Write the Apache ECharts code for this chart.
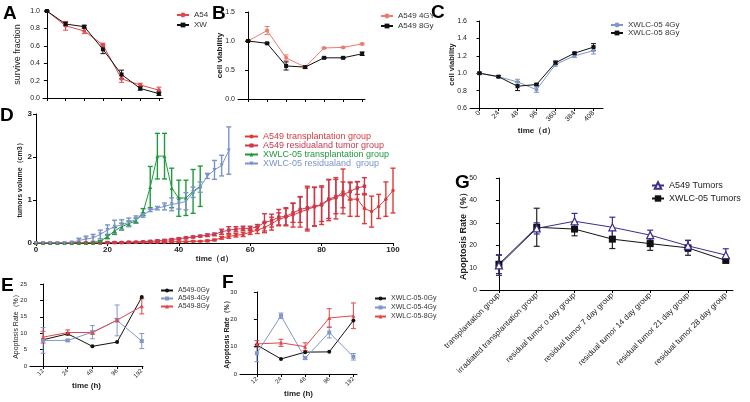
<!DOCTYPE html>
<html><head><meta charset="utf-8">
<script src="https://cdn.jsdelivr.net/npm/echarts@6/dist/echarts.min.js"></script>
<style>html,body{margin:0;padding:0;background:#fff}#c{width:750px;height:402px}</style>
</head><body><div id="c"></div>
<script>
// ---------- DATA ----------
// Panel A (survive fraction, 7 doses, no tick labels)
var aIdx = [0,1,2,3,4,5,6];
var aA54 = [1.0,0.83,0.77,0.61,0.22,0.15,0.09];
var aA54Err = [0.005,0.05,0.03,0.02,0.04,0.02,0.035];
var aXW = [1.0,0.85,0.82,0.56,0.27,0.11,0.05];
var aXWErr = [0.005,0.02,0.015,0.05,0.05,0.02,0.02];
// Panel B
var bA549Gy4 = [1.0,1.18,0.71,0.55,0.88,0.89,0.95];
var bA549Gy4Err = [0.01,0.07,0.05,0.02,0.01,0.01,0.015];
var bA549Gy8 = [1.0,0.96,0.57,0.55,0.71,0.71,0.78];
var bA549Gy8Err = [0.01,0.01,0.07,0.02,0.01,0.01,0.03];
// Panel C
var cLabels = ['0','24','48','96','360','384','408'];
var cXwGy4 = [1.0,0.96,0.90,0.81,1.10,1.20,1.26];
var cXwGy4Err = [0.01,0.01,0.03,0.03,0.02,0.02,0.04];
var cXwGy8 = [1.0,0.96,0.85,0.87,1.12,1.23,1.30];
var cXwGy8Err = [0.01,0.01,0.05,0.01,0.02,0.01,0.04];
// Panel D (tumor volume vs day)
var dDaysA549T = [0,2,4,6,8,10,12,14,16,18,20,22,24,26,28,30,32,34,36,38,40,42,44,46,48,50,52,54,56,58,60,62,64,66,68,70,72,74,76,78,80,82,84,86,88,90,92,94,96,98,100];
var dA549T = [0,0,0,0,0,0,0,0,0,0,0.01,0.01,0.01,0.01,0.02,0.02,0.02,0.02,0.02,0.03,0.03,0.03,0.04,0.04,0.05,0.07,0.12,0.15,0.18,0.2,0.25,0.3,0.36,0.45,0.55,0.6,0.65,0.72,0.78,0.84,0.88,1.0,1.04,1.2,1.02,1.02,0.8,0.73,0.85,1.02,1.22];
var dA549TErr = [0,0,0,0,0,0,0,0,0,0,0.01,0.01,0.01,0.01,0.01,0.01,0.01,0.01,0.01,0.01,0.01,0.01,0.01,0.01,0.02,0.02,0.03,0.04,0.04,0.05,0.05,0.08,0.12,0.15,0.15,0.2,0.28,0.35,0.5,0.45,0.45,0.48,0.48,0.52,0.4,0.4,0.35,0.36,0.28,0.4,0.52];
var dDaysA549R = [0,2,4,6,8,10,12,14,16,18,20,22,24,26,28,30,32,34,36,38,40,42,44,46,48,50,52,54,56,58,60,62,64,66,68,70,72,74,76,78,80,82,84,86,88,90,92];
var dA549R = [0,0,0,0,0,0,0,0,0,0,0.01,0.01,0.01,0.02,0.02,0.03,0.04,0.05,0.06,0.08,0.1,0.12,0.14,0.16,0.18,0.2,0.26,0.3,0.32,0.34,0.34,0.37,0.48,0.52,0.6,0.62,0.7,0.78,0.82,0.85,0.9,1.02,1.08,1.12,1.2,1.28,1.32];
var dA549RErr = [0,0,0,0,0,0,0,0,0,0,0.01,0.01,0.01,0.01,0.01,0.01,0.01,0.02,0.02,0.02,0.02,0.02,0.02,0.02,0.03,0.03,0.06,0.08,0.06,0.05,0.05,0.06,0.2,0.15,0.18,0.2,0.22,0.3,0.5,0.45,0.4,0.45,0.4,0.3,0.2,0.15,0.2];
var dDaysXwT = [0,2,4,6,8,10,12,14,16,18,20,22,24,26,28,30,32,34,36,38,40,42,44,46];
var dXwT = [0,0,0,0,0,0,0,0,0.01,0.04,0.15,0.28,0.38,0.45,0.52,0.72,1.3,2.02,2.02,1.28,1.04,1.05,1.2,1.32];
var dXwTErr = [0,0,0,0,0,0,0,0,0,0.02,0.05,0.08,0.08,0.06,0.06,0.08,0.48,0.53,0.53,0.46,0.42,0.41,0.51,0.47];
var dDaysXwR = [0,2,4,6,8,10,12,14,16,18,20,22,24,26,28,30,32,34,36,38,40,42,44,46,48,50,52,54];
var dXwR = [0,0,0,0,0,0.01,0.06,0.09,0.12,0.2,0.3,0.38,0.42,0.48,0.55,0.65,0.76,0.81,0.85,0.9,0.92,0.97,1.18,1.3,1.56,1.7,1.8,2.15];
var dXwRErr = [0,0,0,0,0,0.01,0.05,0.07,0.08,0.1,0.12,0.15,0.12,0.1,0.08,0.05,0.03,0.04,0.08,0.15,0.13,0.2,0.12,0.12,0.06,0.22,0.24,0.55];
// Panel E / F
var efLabels = ['12','24','48','96','192'];
var eGy0 = [8.0,9.8,6.0,7.3,21.0];
var eGy4 = [7.8,7.8,10.3,13.9,7.6];
var eGy4Err = [3.9,0.3,2.0,4.7,2.3];
var eGy8 = [8.8,10.2,10.2,14.0,18.2];
var eGy8Err = [1.8,0.8,0.5,0.5,2.3];
var fGy0 = [10.6,5.5,8.0,8.1,19.6];
var fGy4 = [7.6,21.3,5.8,15.2,6.3];
var fGy4Err = [3.1,1.0,0.5,2.0,1.2];
var fGy8 = [11.0,11.4,10.0,20.5,21.3];
var fGy8Err = [1.2,1.3,1.4,3.4,4.7];
// Panel G
var gLabels = ['transplantation group','irradiated transplantation group','residual tumor o day group','residual tumor 7 day group','residual tumor 14 day group','residual tumor 21 day group','residual tumor 28 day group'];
var gA549 = [11.0,27.5,30.7,28.0,24.5,19.7,15.6];
var gA549Err = [4.5,2.5,3.5,4.5,2.2,2.5,2.8];
var gXw = [11.5,28.0,27.2,22.7,20.7,18.8,13.2];
var gXwErr = [4.2,8.5,3.0,4.2,3.0,3.3,1.0];

// ---------- helpers ----------
var FONT = 'Liberation Sans, Arial, sans-serif';
var chart = echarts.init(document.getElementById('c'), null, {renderer:'canvas'});
function idxs(n){var r=[];for(var i=0;i<n;i++)r.push(i);return r;}
function pairs(xs, ys){return xs.map(function(x,i){return [x, ys[i]];});}
function line(name, xi, xs, ys, color, symbol, size, opts){
  opts = opts || {};
  return {
    name:name, type:'line', xAxisIndex:xi, yAxisIndex:xi, data:pairs(xs,ys),
    symbol:symbol, symbolSize:size, symbolRotate:opts.rot||0, z:3,
    lineStyle:{color:opts.lineColor||color, width:opts.lw||1},
    itemStyle:{color:opts.fill||color, borderColor:color, borderWidth:opts.bw||0},
    emphasis:{disabled:true}, animation:false
  };
}
function err(xi, xs, ys, es, color, cap, w){
  var d=[];
  xs.forEach(function(x,i){ if(es[i]>0) d.push([x, ys[i]-es[i], ys[i]+es[i]]); });
  return {
    type:'custom', xAxisIndex:xi, yAxisIndex:xi, silent:true, z:2, animation:false,
    data:d, encode:{x:0,y:[1,2]},
    renderItem:function(params, api){
      var x=api.value(0);
      var lo=api.coord([x, api.value(1)]), hi=api.coord([x, api.value(2)]);
      var st={stroke:color, lineWidth:w};
      return {type:'group', children:[
        {type:'line', shape:{x1:lo[0],y1:lo[1],x2:hi[0],y2:hi[1]}, style:st},
        {type:'line', shape:{x1:lo[0]-cap,y1:lo[1],x2:lo[0]+cap,y2:lo[1]}, style:st},
        {type:'line', shape:{x1:hi[0]-cap,y1:hi[1],x2:hi[0]+cap,y2:hi[1]}, style:st}
      ]};
    }
  };
}
var NAMEX = {fontFamily:FONT, fontSize:8, fontWeight:'bold', color:'#222'};
function xAx(gi, min, max, ticks, labels, extra, lblSize){
  var a = {
    type:'value', gridIndex:gi, min:min, max:max, position:'bottom',
    axisLine:{show:true, onZero:false, lineStyle:{color:'#000', width:1}},
    axisTick:{show:true, length:3, customValues:ticks, lineStyle:{color:'#000'}},
    axisLabel:{show:!!labels, customValues:ticks, rotate:labels?45:0, fontFamily:FONT, fontSize:lblSize||7, color:'#222', margin:4,
      formatter:function(v){ return labels ? labels[Math.round(v)] : ''; }},
    splitLine:{show:false}, nameMoveOverlap:false
  };
  return Object.assign(a, extra||{});
}
function yAx(gi, min, max, interval, fmt, extra, lblSize){
  var a = {
    type:'value', gridIndex:gi, min:min, max:max, interval:interval,
    axisLine:{show:true, lineStyle:{color:'#000', width:1}},
    axisTick:{show:true, length:3, lineStyle:{color:'#000'}},
    axisLabel:{fontFamily:FONT, fontSize:lblSize||7, color:'#222', margin:3, formatter:fmt},
    splitLine:{show:false}, nameLocation:'middle', nameMoveOverlap:false
  };
  return Object.assign(a, extra||{});
}
function f1(v){return v.toFixed(1);}
function f0(v){return String(v);}

var i7 = idxs(7), i5 = idxs(5);
var RED='#e2474b', SALMON='#ee7b6d', BLUE='#7f97cb', BLK='#111111';
var DRED='#de3a3a', DRED2='#c9394e', DGRN='#1f9a3c', DBLU='#7b93c9', NAVY='#3a2e8e';
function lg(left, top, gap, iw, ih, fs, data, color){
  return {left:left, top:top, padding:0, orient:'vertical', itemGap:gap, itemWidth:iw, itemHeight:ih,
    selectedMode:false, textStyle:{fontSize:fs, color:color||'#333', fontFamily:FONT}, data:data};
}

var option = {
  animation:false,
  backgroundColor:'#ffffff',
  textStyle:{fontFamily:FONT},
  grid:[
    {left:43, top:11, width:120, height:87},   // A
    {left:238, top:12, width:127, height:87},  // B
    {left:470, top:21, width:133, height:87},  // C
    {left:36, top:114, width:357, height:129}, // D
    {left:30, top:284, width:113, height:82},  // E
    {left:240, top:292, width:117, height:82}, // F
    {left:480, top:178, width:253, height:112} // G
  ],
  xAxis:[
    xAx(0, -0.21, 6.22, i7, null),
    xAx(1, -0.53, 6.15, i7, null),
    xAx(2, -0.5, 6.5, i7, cLabels, {name:'time（d）', nameLocation:'middle', nameGap:19, nameTextStyle:NAMEX}),
    {type:'value', gridIndex:3, min:0, max:100, interval:20, nameMoveOverlap:false,
      axisLine:{show:true, onZero:false, lineStyle:{color:'#000'}}, axisTick:{length:3, lineStyle:{color:'#000'}},
      axisLabel:{fontFamily:FONT, fontSize:8, fontWeight:'bold', color:'#222', margin:3},
      splitLine:{show:false}, name:'time（d）', nameLocation:'middle', nameGap:12, nameTextStyle:NAMEX},
    xAx(4, -0.53, 4.05, i5, efLabels, {name:'time (h)', nameLocation:'middle', nameGap:16, nameTextStyle:NAMEX}, 6),
    xAx(5, -0.7, 4.15, i5, efLabels, {name:'time (h)', nameLocation:'middle', nameGap:16, nameTextStyle:NAMEX}, 6),
    xAx(6, -0.5, 6.19, i7, gLabels, null, 8)
  ],
  yAxis:[
    yAx(0, 0, 1.0, 0.2, f1, {name:'survive fraction', nameGap:21, nameTextStyle:{fontFamily:FONT, fontSize:9, color:'#222'}}),
    yAx(1, 0, 1.5, 0.5, f1, {name:'cell viability', nameGap:14, nameTextStyle:NAMEX}),
    yAx(2, 0.6, 1.6, 0.2, f1, {name:'cell viability', nameGap:14, nameTextStyle:{fontFamily:FONT, fontSize:7.5, fontWeight:'bold', color:'#222'}}),
    yAx(3, 0, 3, 1, f0, {name:'tumors volume（cm3）', nameGap:12,
      axisLabel:{fontFamily:FONT, fontSize:8, fontWeight:'bold', color:'#222', margin:4},
      nameTextStyle:{fontFamily:FONT, fontSize:7, fontWeight:'bold', color:'#222'}}),
    yAx(4, 0, 25, 5, f0, {name:'Apoptosis Rate（%）', nameGap:10, nameTextStyle:{fontFamily:FONT, fontSize:7, color:'#222'}}, 6),
    yAx(5, 0, 30, 10, f0, {name:'Apoptosis Rate（%）', nameGap:9, nameTextStyle:{fontFamily:FONT, fontSize:7, fontWeight:'bold', color:'#222'}}, 6),
    yAx(6, 0, 50, 10, f0, {name:'Apoptosis Rate（%）', nameGap:12, nameTextStyle:{fontFamily:FONT, fontSize:9, fontWeight:'bold', color:'#222'}})
  ],
  legend:[
    lg(176, 11, 2, 12, 6, 8, ['A54','XW']),
    lg(380, 12, 2, 12, 6, 8, ['A549 4GY','A549 8Gy']),
    lg(610, 21, 0, 12, 6, 8, ['XWLC-05 4Gy','XWLC-05 8Gy']),
    {left:244, top:132, padding:0, orient:'vertical', itemGap:0, itemWidth:13, itemHeight:5, selectedMode:false,
      textStyle:{fontSize:9, fontFamily:FONT},
      data:[{name:'A549 transplantation group', textStyle:{color:DRED}},
            {name:'A549 residualand tumor group', textStyle:{color:DRED2}},
            {name:'XWLC-05 transplantation group', textStyle:{color:DGRN}},
            {name:'XWLC-05 residualand  group', textStyle:{color:DBLU}}]},
    lg(160, 287, 1, 12, 5, 7, ['A549-0Gy','A549-4Gy','A549-8Gy']),
    lg(374, 295, 2, 11, 5, 7, ['XWLC-05-0Gy','XWLC-05-4Gy','XWLC-05-8Gy']),
    lg(651, 181, 4, 12, 8, 9, ['A549 Tumors','XWLC-05 Tumors'], '#222')
  ],
  graphic:[
    {type:'text', left:3, top:4, style:{text:'A', font:'bold 19px '+FONT, fill:'#000'}},
    {type:'text', left:212, top:4, style:{text:'B', font:'bold 19px '+FONT, fill:'#000'}},
    {type:'text', left:431, top:3, style:{text:'C', font:'bold 19px '+FONT, fill:'#000'}},
    {type:'text', left:0, top:106, style:{text:'D', font:'bold 19px '+FONT, fill:'#000'}},
    {type:'text', left:1, top:276, style:{text:'E', font:'bold 19px '+FONT, fill:'#000'}},
    {type:'text', left:222, top:273, style:{text:'F', font:'bold 19px '+FONT, fill:'#000'}},
    {type:'text', left:455, top:173, style:{text:'G', font:'bold 19px '+FONT, fill:'#000'}}
  ],
  series:[
    // A
    err(0, aIdx, aA54, aA54Err, RED, 2.5, 1), err(0, aIdx, aXW, aXWErr, BLK, 2.5, 1),
    line('A54', 0, aIdx, aA54, RED, 'circle', 4),
    line('XW', 0, aIdx, aXW, BLK, 'rect', 4),
    // B
    err(1, i7, bA549Gy4, bA549Gy4Err, SALMON, 2.5, 1), err(1, i7, bA549Gy8, bA549Gy8Err, BLK, 2.5, 1),
    line('A549 4GY', 1, i7, bA549Gy4, SALMON, 'circle', 4),
    line('A549 8Gy', 1, i7, bA549Gy8, BLK, 'rect', 4),
    // C
    err(2, i7, cXwGy4, cXwGy4Err, BLUE, 2.5, 1), err(2, i7, cXwGy8, cXwGy8Err, BLK, 2.5, 1),
    line('XWLC-05 4Gy', 2, i7, cXwGy4, BLUE, 'circle', 4),
    line('XWLC-05 8Gy', 2, i7, cXwGy8, BLK, 'rect', 4),
    // D
    err(3, dDaysA549T, dA549T, dA549TErr, DRED, 2.5, 1.4),
    err(3, dDaysA549R, dA549R, dA549RErr, DRED2, 2.5, 1.4),
    err(3, dDaysXwT, dXwT, dXwTErr, DGRN, 2.5, 1.4),
    err(3, dDaysXwR, dXwR, dXwRErr, DBLU, 2.5, 1.4),
    line('A549 transplantation group', 3, dDaysA549T, dA549T, DRED, 'circle', 3.5),
    line('A549 residualand tumor group', 3, dDaysA549R, dA549R, DRED2, 'rect', 3.5),
    line('XWLC-05 transplantation group', 3, dDaysXwT, dXwT, DGRN, 'triangle', 4),
    line('XWLC-05 residualand  group', 3, dDaysXwR, dXwR, DBLU, 'triangle', 4, {rot:180}),
    // E
    err(4, i5, eGy4, eGy4Err, BLUE, 2.5, 1), err(4, i5, eGy8, eGy8Err, RED, 2.5, 1),
    line('A549-0Gy', 4, i5, eGy0, BLK, 'circle', 4),
    line('A549-4Gy', 4, i5, eGy4, BLUE, 'rect', 4),
    line('A549-8Gy', 4, i5, eGy8, RED, 'triangle', 4),
    // F
    err(5, i5, fGy4, fGy4Err, BLUE, 2.5, 1), err(5, i5, fGy8, fGy8Err, RED, 2.5, 1),
    line('XWLC-05-0Gy', 5, i5, fGy0, BLK, 'circle', 4),
    line('XWLC-05-4Gy', 5, i5, fGy4, BLUE, 'rect', 4),
    line('XWLC-05-8Gy', 5, i5, fGy8, RED, 'triangle', 4),
    // G
    err(6, i7, gXw, gXwErr, '#222', 3, 1.2), err(6, i7, gA549, gA549Err, NAVY, 3, 1.2),
    line('XWLC-05 Tumors', 6, i7, gXw, BLK, 'rect', 7),
    line('A549 Tumors', 6, i7, gA549, NAVY, 'triangle', 7, {fill:'#ffffff', bw:1.2})
  ]
};
chart.setOption(option);
</script>
</body></html>
